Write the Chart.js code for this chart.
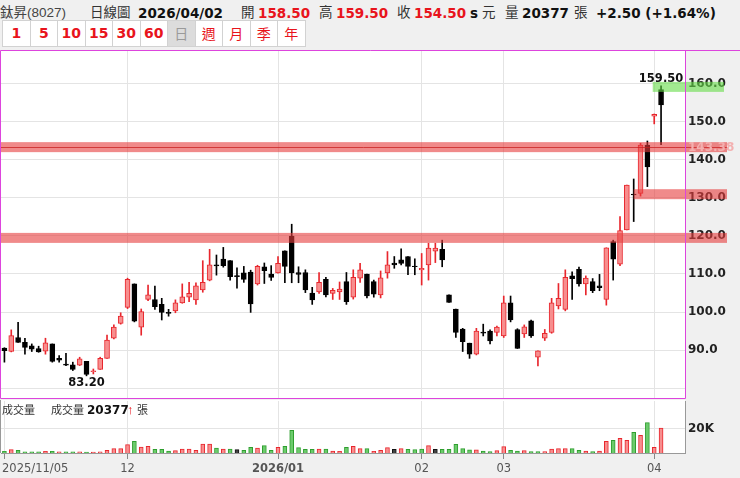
<!DOCTYPE html>
<html><head><meta charset="utf-8">
<script src="https://cdn.jsdelivr.net/npm/chart.js@4.4.1/dist/chart.umd.min.js"></script>
<style>
html,body{margin:0;padding:0;background:#f0f0f0;width:740px;height:478px;overflow:hidden;font-family:"Liberation Sans","Noto Sans CJK TC",sans-serif;}
.t{position:absolute;top:4px;font-size:13.5px;line-height:18px;white-space:nowrap;color:#333;}
.b{font-family:"DejaVu Sans","Noto Sans CJK TC",sans-serif;font-weight:bold;color:#111;font-size:13.5px;}
.r{font-family:"DejaVu Sans",sans-serif;font-weight:bold;color:#e8141c;font-size:13.5px;}
.btn{position:absolute;top:20px;height:27px;width:28.5px;box-sizing:border-box;border:1px solid #d2d2d2;background:#fff;color:#e8141c;font-family:"DejaVu Sans","Noto Sans CJK TC",sans-serif;font-size:14px;font-weight:bold;line-height:25px;text-align:center;}
.btn.c{font-weight:normal;font-family:"Noto Sans CJK TC",sans-serif;font-size:14px;}
.btn.sel{background:#dcdcdc;color:#9a9a9a;}
.v{position:absolute;top:403px;font-size:11px;line-height:15px;white-space:nowrap;color:#333;}
#pw{position:absolute;left:0;top:50px;width:740px;height:350px;}
#vw{position:absolute;left:0;top:400px;width:740px;height:78px;}
</style></head>
<body>
<span class="t" style="left:0px;color:#444">鈦昇(8027)</span>
<span class="t" style="left:90px">日線圖</span>
<span class="t b" style="left:138px">2026/04/02</span>
<span class="t" style="left:241px">開</span>
<span class="t r" style="left:258px">158.50</span>
<span class="t" style="left:319px">高</span>
<span class="t r" style="left:336px">159.50</span>
<span class="t" style="left:397px">收</span>
<span class="t r" style="left:414px">154.50</span>
<span class="t b" style="left:470px">s</span>
<span class="t" style="left:482px">元</span>
<span class="t" style="left:505px">量</span>
<span class="t b" style="left:522px">20377</span>
<span class="t" style="left:574px">張</span>
<span class="t b" style="left:596px">+2.50 (+1.64%)</span>

<div class="btn" style="left:2px">1</div>
<div class="btn" style="left:29.5px">5</div>
<div class="btn" style="left:57px">10</div>
<div class="btn" style="left:84.5px">15</div>
<div class="btn" style="left:112px">30</div>
<div class="btn" style="left:139.5px">60</div>
<div class="btn c sel" style="left:167px">日</div>
<div class="btn c" style="left:194.5px">週</div>
<div class="btn c" style="left:222px">月</div>
<div class="btn c" style="left:249.5px">季</div>
<div class="btn c" style="left:277px">年</div>

<div id="pw"><canvas id="pc" width="740" height="350"></canvas></div>
<div id="vw"><canvas id="vc" width="740" height="78"></canvas></div>
<span class="v" style="left:2px">成交量</span>
<span class="v" style="left:51px">成交量</span>
<span class="v" style="left:87px;font-family:'DejaVu Sans',sans-serif;font-weight:bold;color:#111;font-size:12px">20377</span>
<span class="v" style="left:127px;color:#e8141c;font-weight:bold;font-size:13px;line-height:14px">↑</span>
<span class="v" style="left:137px">張</span>

<script>
const dates = ["2025/11/05","2025/11/06","2025/11/07","2025/11/10","2025/11/11","2025/11/12","2025/11/13","2025/11/14","2025/11/17","2025/11/18","2025/11/19","2025/11/20","2025/11/21","2025/11/24","2025/11/25","2025/11/26","2025/11/27","2025/11/28",
"2025/12/01","2025/12/02","2025/12/03","2025/12/04","2025/12/05","2025/12/08","2025/12/09","2025/12/10","2025/12/11","2025/12/12","2025/12/15","2025/12/16","2025/12/17","2025/12/18","2025/12/19","2025/12/22","2025/12/23","2025/12/24","2025/12/26","2025/12/29","2025/12/30","2025/12/31",
"2026/01/02","2026/01/05","2026/01/06","2026/01/07","2026/01/08","2026/01/09","2026/01/12","2026/01/13","2026/01/14","2026/01/15","2026/01/16","2026/01/19","2026/01/20","2026/01/21","2026/01/22","2026/01/23","2026/01/26","2026/01/27","2026/01/28","2026/01/29","2026/01/30",
"2026/02/02","2026/02/03","2026/02/04","2026/02/05","2026/02/06","2026/02/09","2026/02/10","2026/02/11","2026/02/23","2026/02/24","2026/02/25","2026/02/26",
"2026/03/02","2026/03/03","2026/03/04","2026/03/05","2026/03/06","2026/03/09","2026/03/10","2026/03/11","2026/03/12","2026/03/13","2026/03/16","2026/03/17","2026/03/18","2026/03/19","2026/03/20","2026/03/23","2026/03/24","2026/03/25","2026/03/26","2026/03/27","2026/03/30","2026/03/31",
"2026/04/01","2026/04/02"];

const openP = [90.5,89.6,93.3,92.0,91.1,90.4,89.7,91.6,87.8,86.3, 86.1,86.0,87.0,84.3,84.9,87.8,93.1,97.0,101.2,107.4,
96.0,103.3,103.3,102.0,99.9,100.3,102.4,103.9,103.2,105.8, 108.4,112.4,113.9,113.5,109.6,110.3,110.5,107.4,111.9,110.0,
110.3,116.1,120.0,110.4,110.4,105.0,105.3,108.6,104.9,105.3, 108.0,103.9,108.9,110.0,108.0,104.5,110.3,112.9,113.7,114.6,
112.1,111.1,112.4,116.0,116.5,104.5,100.8,95.5,91.8,88.9, 94.7,95.0,94.6,93.7,102.4,95.4,94.2,97.7,88.1,93.1,
94.6,101.6,100.7,109.5,111.2,107.4,108.0,106.9,103.3,118.5, 112.6,121.6,131.0,131.2,143.9,151.5,158.5];
const highP = [90.6,95.3,97.3,93.1,91.6,91.0,93.1,91.6,88.5,89.1, 86.8,88.1,87.0,85.0,88.1,93.9,96.6,99.8,108.9,107.4,
100.8,107.1,106.8,103.6,100.7,103.2,107.4,107.8,107.7,113.5, 116.5,115.0,117.0,113.5,111.6,112.0,111.0,112.3,112.9,112.2,
114.6,116.1,123.1,111.9,111.1,106.5,110.4,109.1,106.2,107.9, 110.4,111.1,112.8,110.0,108.4,110.8,115.9,114.6,116.6,114.6,
114.0,115.4,118.1,118.1,118.9,104.5,100.8,95.7,91.8,95.7, 96.8,95.3,96.3,104.2,104.2,95.6,96.6,97.9,89.8,95.4,
103.6,107.5,111.1,110.6,111.8,109.5,108.8,109.9,116.9,118.9, 125.1,133.4,135.0,144.4,145.0,152.1,159.5];
const lowP = [86.8,89.5,92.0,88.9,89.6,89.4,88.9,86.8,86.8,85.9, 84.6,85.9,83.2,83.7,84.9,87.8,92.9,96.8,100.9,97.4,
93.9,103.0,100.7,97.9,98.9,99.8,102.3,102.7,102.0,105.2, 108.2,109.7,111.8,108.4,106.3,107.8,99.9,107.1,107.5,108.3,
110.2,107.7,107.7,107.7,105.1,102.0,104.9,104.0,103.3,103.3, 102.0,103.4,107.8,103.7,103.9,103.7,108.9,111.5,112.4,109.8,
109.8,107.1,108.4,113.0,111.9,102.5,93.3,89.6,87.8,88.7, 93.7,91.6,93.7,93.3,97.4,90.4,93.3,93.3,85.8,92.5,
94.4,100.8,100.3,103.3,106.8,104.5,105.1,105.6,101.8,108.4, 112.2,121.6,123.8,130.5,133.0,149.5,144.0];
const closeP = [89.8,93.8,92.0,90.7,90.2,89.5,91.9,87.0,87.3,86.0, 84.9,87.7,83.6,84.5,87.8,92.6,96.0,98.9,108.6,97.6,
100.1,104.5,101.4,99.9,99.6,102.4,104.0,104.9,106.9,107.8, 112.4,112.1,112.2,109.3,109.3,108.6,102.1,112.0,110.9,109.1,
112.8,112.0,110.3,109.9,105.8,103.2,107.8,104.5,105.7,106.0, 102.7,109.1,111.1,104.2,104.7,109.0,112.4,112.4,112.8,112.0,
111.9,111.5,116.8,116.8,113.7,102.5,94.6,92.2,88.9,95.0, 94.4,92.4,96.0,102.4,97.9,90.4,96.1,93.7,89.8,94.4,
102.4,103.6,109.1,108.8,107.4,108.9,105.6,106.4,116.9,113.9, 121.4,133.4,130.8,143.9,138.2,152.0,154.5];
const volume = [1400,2800,2200,1000,1000,1000,1400,1400,1000,1000, 1000,1000,800,800,1000,2200,3600,3600,6900,9600,
4900,5500,3000,3000,1600,1900,3300,3300,2200,7400, 7400,4100,3300,3300,2800,2200,4600,4100,6000,2200,
4600,5500,18600,4400,3000,3000,3300,3300,1600,1400, 4600,5500,3600,3600,1400,2200,4400,3000,3600,3000,
2800,3300,6000,3000,3000,3000,7100,3600,2500,2500, 1600,1100,1900,5200,2200,1600,1900,1100,1100,1100,
3300,3600,3600,3600,2200,1600,1100,1600,9600,10400, 12000,10400,17000,14500,24900,4700,20377];

const priceTicks = [80,90,100,110,120,130,140,150,160];
const volumeTicks = [20000];
const zoneLevels = [143.38, 131.0, 119.5];
const zoneStartIdx = [null, 92, null];
const markLevel = 143.38;

const emptySlots = 3;
const xLabels = dates.concat(Array(emptySlots).fill(''));
const monthIdx = dates.map((d,i)=> (i===0 || d.slice(0,7)!==dates[i-1].slice(0,7)) ? i : -1).filter(i=>i>=0);
function tickText(i){
  const d = dates[i];
  if (i===0) return d;
  if (d.slice(0,4)!==dates[i-1].slice(0,4)) return d.slice(0,7);
  return d.slice(5,7);
}

const RED='#e8262d', REDF='#f78e8e', BLK='#000', GRN='#2e9e2e', GRNF='#6ccb6c';
const isUp = i => closeP[i] > openP[i];
function volDir(i){ const p = i===0 ? openP[0] : closeP[i-1]; return closeP[i]>p?1:(closeP[i]<p?-1:0); }

Chart.defaults.font.family = "'DejaVu Sans', sans-serif";
Chart.defaults.animation = false;

const maxHighIdx = highP.indexOf(Math.max(...highP));
const minLowIdx = lowP.indexOf(Math.min(...lowP));

const mainDeco = {
  id:'mainDeco',
  beforeDraw(c){ const a=c.chartArea, g=c.ctx; g.save(); g.fillStyle='#fff'; g.fillRect(a.left,a.top,a.right-a.left,a.bottom-a.top); g.restore(); },
  afterDraw(c){
    const g=c.ctx, xs=c.scales.x, ys=c.scales.y, a=c.chartArea;
    g.save();
    g.fillStyle='rgba(230,60,60,0.6)';
    zoneLevels.forEach((lv,k)=>{
      const y=ys.getPixelForValue(lv);
      const x0 = zoneStartIdx[k]==null ? 0 : xs.getPixelForValue(zoneStartIdx[k]);
      g.fillRect(x0, y-5, 727-x0, 10);
    });
    const ym = Math.round(ys.getPixelForValue(markLevel))+0.5;
    g.strokeStyle='rgba(200,30,30,0.75)'; g.lineWidth=1;
    g.beginPath(); g.moveTo(0,ym); g.lineTo(727,ym); g.stroke();
    const yh = ys.getPixelForValue(highP[maxHighIdx]);
    const xl = xs.getPixelForValue(dates.length-2)-1.5;
    g.fillStyle='rgba(100,220,70,0.6)';
    g.fillRect(xl, yh-4, 724-xl, 10);
    g.font="bold 12px 'DejaVu Sans'";
    g.fillStyle='#f3b0b0'; g.textAlign='left'; g.textBaseline='middle';
    g.fillText(markLevel.toFixed(2), a.right+3, ys.getPixelForValue(markLevel)+1);
    g.font="bold 11.5px 'DejaVu Sans'";
    g.fillStyle='#111'; g.textAlign='center';
    g.textBaseline='bottom';
    g.fillText(highP[maxHighIdx].toFixed(2), xs.getPixelForValue(maxHighIdx), yh-1);
    g.textBaseline='top';
    g.fillText(lowP[minLowIdx].toFixed(2), xs.getPixelForValue(minLowIdx), ys.getPixelForValue(lowP[minLowIdx])+1);
    g.strokeStyle='#dd44dd'; g.lineWidth=1;
    g.beginPath();
    g.moveTo(0.5,0.5); g.lineTo(740,0.5);
    g.moveTo(0.5,0.5); g.lineTo(0.5,a.bottom+0.5); g.lineTo(a.right+0.5,a.bottom+0.5); g.lineTo(a.right+0.5,0.5);
    g.stroke();
    g.restore();
  }
};

new Chart(document.getElementById('pc'), {
  type:'bar',
  data:{ labels:xLabels, datasets:[
    { label:'body', data: openP.map((o,i)=>[o, closeP[i]]), order:1, grouped:false, barThickness:5, borderWidth:1, borderSkipped:false,
      backgroundColor: c=> isUp(c.dataIndex)?REDF:BLK, borderColor: c=> isUp(c.dataIndex)?RED:BLK },
    { label:'wick', data: lowP.map((l,i)=>[l, highP[i]]), order:2, grouped:false, barThickness:1, borderWidth:0,
      backgroundColor: c=> isUp(c.dataIndex)?RED:BLK }
  ]},
  options:{
    responsive:false, maintainAspectRatio:false,
    layout:{padding:{top:1,left:1,right:0,bottom:2}},
    plugins:{legend:{display:false}, tooltip:{enabled:false}},
    scales:{
      x:{ type:'category', offset:true,
        grid:{offset:false, color:'#e4e4e4', drawTicks:false},
        border:{display:false},
        ticks:{display:false, autoSkip:false},
        afterBuildTicks: s=>{ s.ticks = monthIdx.filter(i=>i>0).map(v=>({value:v})); },
        afterFit: s=>{ s.height=0; s.paddingLeft=0; s.paddingRight=0; } },
      y:{ position:'right', min:77.37, max:168.68,
        grid:{color:'#e4e4e4', drawTicks:false},
        border:{display:false},
        afterBuildTicks: s=>{ s.ticks = priceTicks.map(v=>({value:v})); },
        ticks:{ padding:3, color:'#222', font:{size:12, weight:'bold'}, callback: v => v>=90 ? v.toFixed(1) : '' },
        afterFit: s=>{ s.width=55; s.paddingTop=0; s.paddingBottom=0; } }
    }
  },
  plugins:[mainDeco]
});

const volDeco = {
  id:'volDeco',
  beforeDraw(c){ const a=c.chartArea, g=c.ctx; g.save(); g.fillStyle='#fff'; g.fillRect(a.left-1,0,a.right-a.left+1,a.bottom); g.restore(); },
  afterDraw(c){
    const g=c.ctx, a=c.chartArea;
    g.save();
    g.strokeStyle='#999'; g.lineWidth=1;
    g.beginPath(); g.moveTo(0.5,0); g.lineTo(0.5,a.bottom); g.stroke();
    g.font="11.5px 'DejaVu Sans'"; g.fillStyle='#555'; g.textAlign='left'; g.textBaseline='top';
    g.fillText(tickText(0), 2, a.bottom+10);
    g.restore();
  }
};

new Chart(document.getElementById('vc'), {
  type:'bar',
  data:{ labels:xLabels, datasets:[
    { label:'vol', data: volume, barThickness:4, borderWidth:1,
      backgroundColor: c=>{ const d=volDir(c.dataIndex); return d>0?REDF:(d<0?GRNF:'#444'); },
      borderColor: c=>{ const d=volDir(c.dataIndex); return d>0?RED:(d<0?GRN:'#111'); } }
  ]},
  options:{
    responsive:false, maintainAspectRatio:false,
    layout:{padding:{top:1,left:1,right:0,bottom:0}},
    plugins:{legend:{display:false}, tooltip:{enabled:false}},
    scales:{
      x:{ type:'category', offset:true,
        grid:{offset:false, color:'#e4e4e4', tickColor:'#888', tickLength:6},
        border:{display:true, color:'#999'},
        afterBuildTicks: s=>{ s.ticks = monthIdx.map(v=>({value:v})); },
        ticks:{ autoSkip:false, maxRotation:0, padding:3, color:'#555',
          font: c=>({size:11.5, weight: (c.tick && tickText(c.tick.value).length===7) ? 'bold' : 'normal'}),
          callback: v => v===0 ? '' : tickText(v) },
        afterFit: s=>{ s.height=25; s.paddingLeft=0; s.paddingRight=0; } },
      y:{ position:'right', min:0, max:42600,
        grid:{color:'#e4e4e4', drawTicks:false},
        border:{display:true, color:'#999'},
        afterBuildTicks: s=>{ s.ticks = volumeTicks.map(v=>({value:v})); },
        ticks:{ padding:3, color:'#222', font:{size:12, weight:'bold'}, callback: v => (v/1000)+'K' },
        afterFit: s=>{ s.width=55; s.paddingTop=0; s.paddingBottom=0; } }
    }
  },
  plugins:[volDeco]
});
</script>
</body></html>
